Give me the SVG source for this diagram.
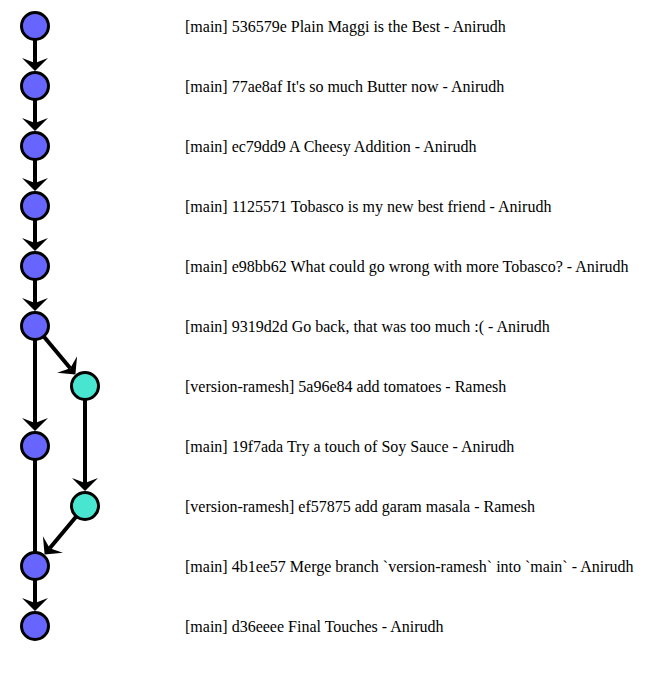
<svg xmlns="http://www.w3.org/2000/svg" width="654" height="673" viewBox="0 0 654 673">
<style>
.edge{fill:none;stroke:#000;stroke-width:4;marker-end:url(#arr)}
.plain{fill:none;stroke:#000;stroke-width:4}
.main{fill:#6666ff;stroke:#000;stroke-width:3}
.br{fill:#48e5d0;stroke:#000;stroke-width:3}
text{font-family:'Liberation Serif',serif;font-size:16px;fill:#000}
</style>
<defs>
<marker id="arr" viewBox="-10 -15 20 30" markerWidth="20" markerHeight="30" refX="0" refY="0" orient="auto" markerUnits="userSpaceOnUse">
<path d="M8,0 L-5,-13 L0,0 L-5,13 Z" fill="#000"/>
</marker>
</defs>
<rect width="654" height="673" fill="#fff"/>
<g id="connectors">
<path class="edge" d="M35,26 V63"/>
<path class="edge" d="M35,86 V123"/>
<path class="edge" d="M35,146 V183"/>
<path class="edge" d="M35,206 V243"/>
<path class="edge" d="M35,266 V303"/>
<path class="edge" d="M35,326 V423"/>
<path class="edge" d="M35,326 L70.28,368.34"/>
<path class="edge" d="M85,386 V483"/>
<path class="plain" d="M35,446 V566"/>
<path class="edge" d="M85,506 L49.72,548.34"/>
<path class="edge" d="M35,566 V603"/>
</g>
<g font-family="Liberation Serif, serif" font-size="16">
<g id="n1"><circle class="main" cx="35" cy="26" r="13.5"/><text x="185" y="32">[main] 536579e Plain Maggi is the Best - Anirudh</text></g>
<g id="n2"><circle class="main" cx="35" cy="86" r="13.5"/><text x="185" y="92">[main] 77ae8af It's so much Butter now - Anirudh</text></g>
<g id="n3"><circle class="main" cx="35" cy="146" r="13.5"/><text x="185" y="152">[main] ec79dd9 A Cheesy Addition - Anirudh</text></g>
<g id="n4"><circle class="main" cx="35" cy="206" r="13.5"/><text x="185" y="212">[main] 1125571 Tobasco is my new best friend - Anirudh</text></g>
<g id="n5"><circle class="main" cx="35" cy="266" r="13.5"/><text x="185" y="272">[main] e98bb62 What could go wrong with more Tobasco? - Anirudh</text></g>
<g id="n6"><circle class="main" cx="35" cy="326" r="13.5"/><text x="185" y="332">[main] 9319d2d Go back, that was too much :( - Anirudh</text></g>
<g id="n7"><circle class="br" cx="85" cy="386" r="13.5"/><text x="185" y="392">[version-ramesh] 5a96e84 add tomatoes - Ramesh</text></g>
<g id="n8"><circle class="main" cx="35" cy="446" r="13.5"/><text x="185" y="452">[main] 19f7ada Try a touch of Soy Sauce - Anirudh</text></g>
<g id="n9"><circle class="br" cx="85" cy="506" r="13.5"/><text x="185" y="512">[version-ramesh] ef57875 add garam masala - Ramesh</text></g>
<g id="n10"><circle class="main" cx="35" cy="566" r="13.5"/><text x="185" y="572">[main] 4b1ee57 Merge branch `version-ramesh` into `main` - Anirudh</text></g>
<g id="n11"><circle class="main" cx="35" cy="626" r="13.5"/><text x="185" y="632">[main] d36eeee Final Touches - Anirudh</text></g>
</g>
</svg>
